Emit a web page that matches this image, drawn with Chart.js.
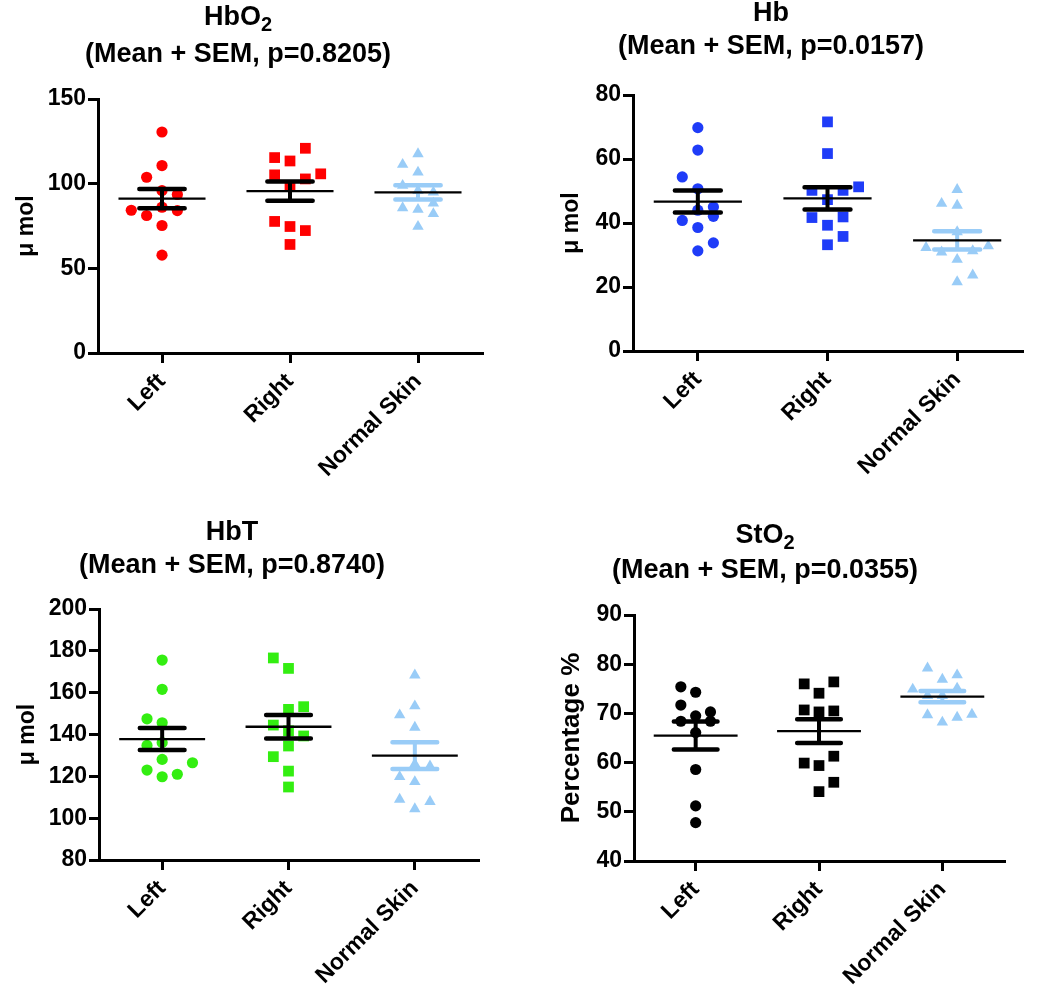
<!DOCTYPE html>
<html>
<head>
<meta charset="utf-8">
<script src="https://cdn.jsdelivr.net/npm/chart.js@4.4.0/dist/chart.umd.min.js"></script>
<style>
html, body { margin: 0; padding: 0; background: #ffffff; }
body { width: 1050px; height: 999px; position: relative; overflow: hidden; }
.wrap { position: absolute; }
canvas { display: block; }
</style>
</head>
<body>
<div class="wrap" style="left:0px;top:0px;"><canvas id="c1" width="525" height="495"></canvas></div>
<div class="wrap" style="left:525px;top:0px;"><canvas id="c2" width="525" height="495"></canvas></div>
<div class="wrap" style="left:0px;top:495px;"><canvas id="c3" width="525" height="504"></canvas></div>
<div class="wrap" style="left:525px;top:495px;"><canvas id="c4" width="525" height="504"></canvas></div>
<script>
// ---------- data ----------
const categories = ['Left', 'Right', 'Normal Skin'];

// HbO2 (µmol)
const hbo2Left = [130.5, 110.7, 103.8, 95.9, 93.6, 86.1, 84.3, 84.1, 81.2, 75.3, 57.8];
const hbo2LeftSlot = [0, 0, -1, 0, 1, 0, -2, 1, -1, 0, 0];
const hbo2Right = [120.9, 115.4, 113.4, 105.2, 105.8, 102.8, 98.3, 77.7, 74.7, 72.3, 64.1];
const hbo2RightSlot = [1, -1, 0, -1, 2, 1, 0, -1, 0, 1, 0];
const hbo2Normal = [117.6, 111.3, 106.7, 98.9, 95.9, 94.9, 88.4, 85.7, 84.7, 82.2, 74.7];
const hbo2NormalSlot = [0, -1, 0, -1, 0, 1, 1, -1, 0, 1, 0];
const hbo2Mean = [91.2, 95.6, 94.8];
const hbo2Sem = [5.7, 5.7, 4.2];

// Hb (µmol)
const hbLeft = [69.8, 62.8, 54.4, 50.7, 45.0, 44.0, 42.1, 40.8, 38.6, 33.8, 31.3];
const hbLeftSlot = [0, 0, -1, 0, 1, 0, 1, -1, 0, 1, 0];
const hbRight = [71.6, 61.7, 51.3, 50.2, 50.2, 47.3, 41.7, 41.9, 39.3, 35.8, 33.2];
const hbRightSlot = [0, 0, 2, -1, 1, 0, -1, 1, 0, 1, 0];
const hbNormal = [50.4, 46.1, 45.5, 37.2, 32.3, 32.8, 30.9, 31.3, 28.6, 23.7, 21.6];
const hbNormalSlot = [0, -1, 0, 0, -2, 2, -1, 1, 0, 1, 0];
const hbMean = [46.7, 47.7, 34.6];
const hbSem = [3.45, 3.45, 2.85];

// HbT (µmol)
const hbtLeft = [175.6, 161.6, 147.5, 145.6, 136.1, 134.8, 128.1, 126.5, 123.0, 121.0, 119.8];
const hbtLeftSlot = [0, 0, -1, 0, 0, -1, 0, 2, -1, 1, 0];
const hbtRight = [176.6, 171.6, 152.0, 153.3, 144.5, 141.8, 139.3, 134.5, 129.4, 122.5, 114.9];
const hbtRightSlot = [-1, 0, 0, 1, -1, 0, 1, 0, -1, 0, 0];
const hbtNormal = [168.4, 153.6, 149.3, 143.4, 125.9, 124.9, 119.8, 117.4, 109.0, 107.9, 104.4];
const hbtNormalSlot = [0, 0, -1, 0, 0, 1, -1, 0, -1, 1, 0];
const hbtMean = [137.8, 143.7, 129.9];
const hbtSem = [5.25, 5.65, 6.45];

// StO2 (%)
const sto2Left = [75.4, 74.3, 71.7, 70.3, 69.5, 68.4, 68.4, 66.1, 58.6, 51.2, 47.8];
const sto2LeftSlot = [-1, 0, -1, 1, 0, -1, 1, 0, 0, 0, 0];
const sto2Right = [76.4, 76.0, 74.1, 70.7, 70.5, 70.3, 61.3, 59.9, 59.4, 56.0, 54.1];
const sto2RightSlot = [1, -1, 0, -1, 1, 0, 1, -1, 0, 1, 0];
const sto2Normal = [79.2, 77.8, 76.9, 75.1, 74.9, 73.6, 73.6, 69.8, 69.7, 69.2, 68.2];
const sto2NormalSlot = [-1, 1, 0, 1, -2, -1, 0, 2, -1, 1, 0];
const sto2Mean = [65.5, 66.4, 73.4];
const sto2Sem = [2.85, 2.4, 1.15];

// y-axis ticks
const hbo2Ticks = [0, 50, 100, 150];
const hbTicks = [0, 20, 40, 60, 80];
const hbtTicks = [80, 100, 120, 140, 160, 180, 200];
const sto2Ticks = [40, 50, 60, 70, 80, 90];

// ---------- styling / layout ----------
const FONT = '"Liberation Sans", Arial, Helvetica, sans-serif';
const SLOT = 0.12;       // horizontal jitter step (category units)
const CAP = 0.177;       // SEM cap half-width
const MEANW = 0.34;      // mean line half-width
const NORMAL_COLOR = '#99ccf7';
const TITLE_SIZE = 27;
const SUB_SIZE = 20;
const TICK_SIZE = 23;

const panels = [
  { id: 'c1', title: 'HbO', sub: '2', p: '0.8205', yLabel: 'μ mol', ticks: hbo2Ticks,
    left: hbo2Left, leftSlot: hbo2LeftSlot, right: hbo2Right, rightSlot: hbo2RightSlot,
    normal: hbo2Normal, normalSlot: hbo2NormalSlot, mean: hbo2Mean, sem: hbo2Sem,
    color: '#ff0000', area: { l: 98, t: 99, r: 482, b: 353 }, h: 495,
    titleX: 238, t1: 25, t2: 62, yTitleSize: 23, yTitleCenter: 27 },
  { id: 'c2', title: 'Hb', sub: '', p: '0.0157', yLabel: 'μ mol', ticks: hbTicks,
    left: hbLeft, leftSlot: hbLeftSlot, right: hbRight, rightSlot: hbRightSlot,
    normal: hbNormal, normalSlot: hbNormalSlot, mean: hbMean, sem: hbSem,
    color: '#1f3cf8', area: { l: 108, t: 95, r: 497, b: 351 }, h: 495,
    titleX: 246, t1: 21, t2: 54, yTitleSize: 23, yTitleCenter: 47 },
  { id: 'c3', title: 'HbT', sub: '', p: '0.8740', yLabel: 'μ mol', ticks: hbtTicks,
    left: hbtLeft, leftSlot: hbtLeftSlot, right: hbtRight, rightSlot: hbtRightSlot,
    normal: hbtNormal, normalSlot: hbtNormalSlot, mean: hbtMean, sem: hbtSem,
    color: '#33ee11', area: { l: 99, t: 114, r: 478, b: 365 }, h: 504,
    titleX: 232, t1: 45, t2: 78, yTitleSize: 23, yTitleCenter: 28 },
  { id: 'c4', title: 'StO', sub: '2', p: '0.0355', yLabel: 'Percentage %', ticks: sto2Ticks,
    left: sto2Left, leftSlot: sto2LeftSlot, right: sto2Right, rightSlot: sto2RightSlot,
    normal: sto2Normal, normalSlot: sto2NormalSlot, mean: sto2Mean, sem: sto2Sem,
    color: '#000000', area: { l: 109, t: 120, r: 479, b: 366 }, h: 504,
    titleX: 240, t1: 48, t2: 83, yTitleSize: 26, yTitleCenter: 47 }
];

function toPoints(values, slots, idx) {
  return values.map((v, k) => ({ x: idx + slots[k] * SLOT, y: v }));
}

function makeChart(P) {
  const canvas = document.getElementById(P.id);
  const W = canvas.width;
  const yTitleLH = P.yTitleSize * 1.2;

  const titlePlugin = {
    id: 'panelTitle',
    afterDraw(chart) {
      const ctx = chart.ctx;
      ctx.save();
      ctx.fillStyle = '#000';
      ctx.textBaseline = 'alphabetic';
      ctx.font = 'bold ' + TITLE_SIZE + 'px ' + FONT;
      const mainW = ctx.measureText(P.title).width;
      ctx.font = 'bold ' + SUB_SIZE + 'px ' + FONT;
      const subW = P.sub ? ctx.measureText(P.sub).width : 0;
      const x0 = P.titleX - (mainW + subW) / 2;
      ctx.textAlign = 'left';
      ctx.font = 'bold ' + TITLE_SIZE + 'px ' + FONT;
      ctx.fillText(P.title, x0, P.t1);
      if (P.sub) {
        ctx.font = 'bold ' + SUB_SIZE + 'px ' + FONT;
        ctx.fillText(P.sub, x0 + mainW, P.t1 + 6);
      }
      ctx.font = 'bold ' + TITLE_SIZE + 'px ' + FONT;
      ctx.textAlign = 'center';
      ctx.fillText('(Mean + SEM, p=' + P.p + ')', P.titleX, P.t2);
      ctx.restore();
    }
  };

  const meanSemPlugin = {
    id: 'meanSem',
    afterDatasetsDraw(chart) {
      const { ctx, scales: { x, y } } = chart;
      ctx.save();
      P.mean.forEach((m, i) => {
        const s = P.sem[i];
        const col = i === 2 ? NORMAL_COLOR : '#000000';
        const xc = x.getPixelForValue(i);
        const xl = x.getPixelForValue(i - CAP);
        const xr = x.getPixelForValue(i + CAP);
        const yT = y.getPixelForValue(m + s);
        const yB = y.getPixelForValue(m - s);
        ctx.strokeStyle = col;
        ctx.lineWidth = 4;
        ctx.lineCap = 'butt';
        ctx.beginPath(); ctx.moveTo(xc, yT); ctx.lineTo(xc, yB); ctx.stroke();
        ctx.lineWidth = 4.5;
        ctx.lineCap = 'round';
        ctx.beginPath();
        ctx.moveTo(xl, yT); ctx.lineTo(xr, yT);
        ctx.moveTo(xl, yB); ctx.lineTo(xr, yB);
        ctx.stroke();
      });
      P.mean.forEach((m, i) => {
        const ym = y.getPixelForValue(m);
        ctx.strokeStyle = '#000000';
        ctx.lineWidth = 2.3;
        ctx.lineCap = 'butt';
        ctx.beginPath();
        ctx.moveTo(x.getPixelForValue(i - MEANW), ym);
        ctx.lineTo(x.getPixelForValue(i + MEANW), ym);
        ctx.stroke();
      });
      ctx.restore();
    }
  };

  const axisGrid = {
    display: true, drawOnChartArea: false, drawTicks: true,
    tickLength: 10, tickWidth: 3, tickColor: '#000', color: '#000', lineWidth: 3
  };
  const axisBorder = { display: true, color: '#000', width: 3 };

  return new Chart(canvas, {
    type: 'scatter',
    data: {
      datasets: [
        { label: categories[0], data: toPoints(P.left, P.leftSlot, 0), pointStyle: 'circle',
          pointRadius: 5.6, backgroundColor: P.color, borderWidth: 0, pointBorderWidth: 0 },
        { label: categories[1], data: toPoints(P.right, P.rightSlot, 1), pointStyle: 'rect',
          pointRadius: 7.6, backgroundColor: P.color, borderWidth: 0, pointBorderWidth: 0 },
        { label: categories[2], data: toPoints(P.normal, P.normalSlot, 2), pointStyle: 'triangle',
          pointRadius: 6.6, backgroundColor: NORMAL_COLOR, borderWidth: 0, pointBorderWidth: 0 }
      ]
    },
    options: {
      responsive: false,
      animation: false,
      devicePixelRatio: 1,
      layout: { padding: { left: 0, top: P.area.t, right: W - P.area.r, bottom: 0 } },
      plugins: { legend: { display: false }, tooltip: { enabled: false }, title: { display: false } },
      scales: {
        x: {
          type: 'linear', min: -0.5, max: 2.5,
          grid: axisGrid, border: axisBorder,
          afterBuildTicks: s => { s.ticks = categories.map((_, i) => ({ value: i })); },
          afterFit: s => { s.height = P.h - P.area.b; },
          ticks: {
            autoSkip: false, maxRotation: 45, minRotation: 45, padding: 5,
            color: '#000', font: { family: FONT, size: TICK_SIZE, weight: 'bold' },
            callback: v => categories[v]
          }
        },
        y: {
          type: 'linear', min: P.ticks[0], max: P.ticks[P.ticks.length - 1],
          grid: axisGrid, border: axisBorder,
          afterBuildTicks: s => { s.ticks = P.ticks.map(v => ({ value: v })); },
          afterFit: s => { s.width = P.area.l; },
          ticks: { padding: 2, color: '#000', font: { family: FONT, size: TICK_SIZE, weight: 'bold' } },
          title: {
            display: true, text: P.yLabel, color: '#000',
            font: { family: FONT, size: P.yTitleSize, weight: 'bold' },
            padding: { top: P.yTitleCenter - yTitleLH / 2, bottom: 0 }
          }
        }
      }
    },
    plugins: [meanSemPlugin, titlePlugin]
  });
}

panels.forEach(makeChart);
</script>
</body>
</html>
